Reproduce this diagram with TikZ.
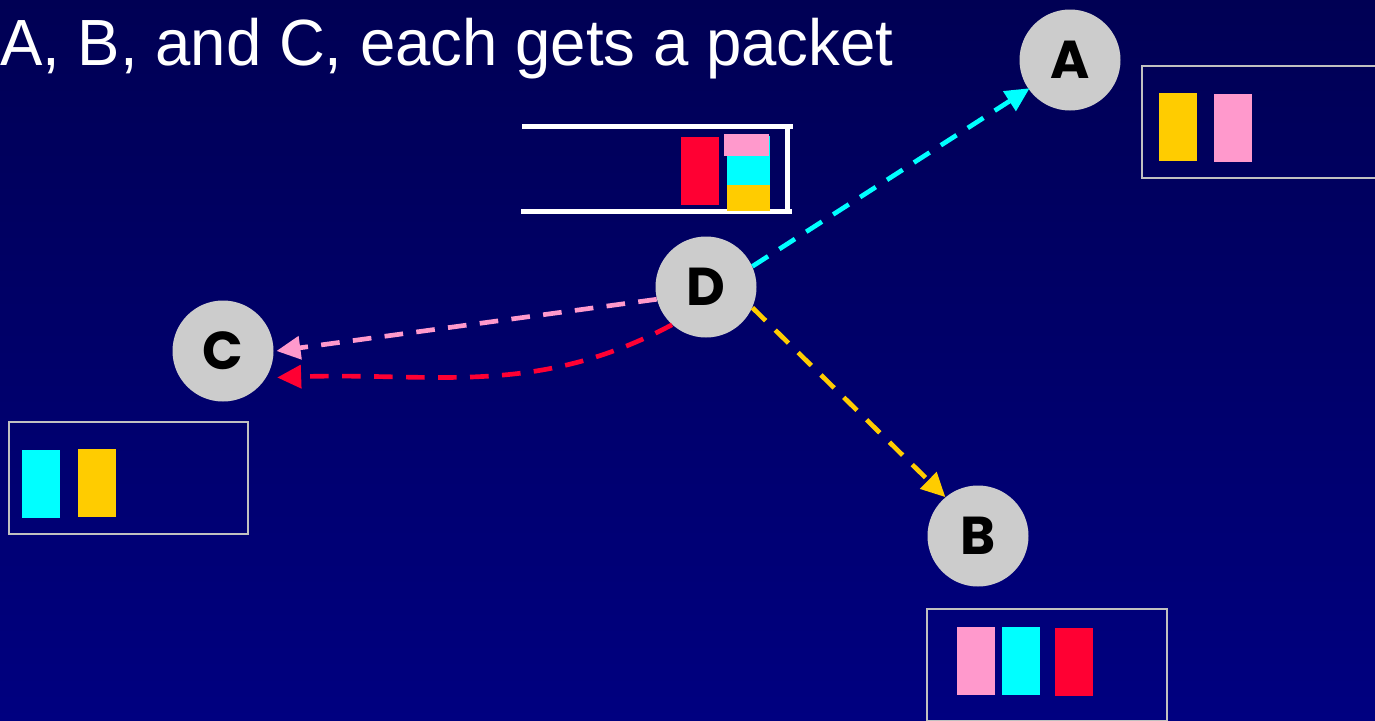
\documentclass[tikz,border=0pt]{standalone}
\usepackage{fontspec}
\setmainfont{Liberation Sans}
\newfontfamily\letterfont{Poppins}
\usetikzlibrary{arrows.meta}
\definecolor{bgtop}{RGB}{0,0,84}
\definecolor{bgbot}{RGB}{0,0,128}
\definecolor{pcyan}{RGB}{0,255,255}
\definecolor{pyellow}{RGB}{255,204,0}
\definecolor{ppink}{RGB}{255,153,204}
\definecolor{pred}{RGB}{255,0,51}
\definecolor{nodegray}{RGB}{204,204,204}
\definecolor{boxgray}{RGB}{192,192,192}
\tikzset{
  station/.style={circle, fill=nodegray, inner sep=0pt, minimum size=75.75pt,
    font=\letterfont\bfseries\fontsize{40}{40}\selectfont, text=black},
  pkt/.style={inner sep=0pt, minimum width=28.5pt, minimum height=51pt, draw=none},
  holder/.style={draw=boxgray, line width=1.6pt, fill=none},
  bufline/.style={draw=white, line width=3.75pt},
  flow/.style={line width=3.5pt, dash pattern=on 14pt off 10pt,
    -{Triangle[length=18pt,width=17pt]}},
}
\begin{document}
\begin{tikzpicture}[x=0.75pt,y=-0.75pt]
\useasboundingbox (0,0) rectangle (1375,721);
\shade[top color=bgtop, bottom color=bgbot] (0,0) rectangle (1375,721);

% title
\node[anchor=base west, inner sep=0pt, text=white, xscale=0.972, font=\fontsize{49}{49}\selectfont] (title) at (0,65) {A, B, and C, each gets a packet};

% stations
\node[station] (A) at (1070,60) {A};
\node[station] (D) at (706,287) {D};
\node[station] (C) at (223,351) {C};
\node[station] (B) at (978,536) {B};

% buffer at D
\draw[bufline] (522,126) -- (793,126);
\draw[bufline] (521,211) -- (792,211);
\draw[bufline] (787,126) -- (787,210);
\node[pkt, fill=pred, minimum width=28.5pt, minimum height=51pt] (dr) at (700,171) {};
\node[pkt, fill=pcyan, minimum width=32.25pt, minimum height=56.25pt] (dc) at (748.5,173.5) {};
\node[pkt, fill=pyellow, minimum width=32.25pt, minimum height=19.5pt] (dy) at (748.5,198) {};
\node[pkt, fill=ppink, minimum width=33.75pt, minimum height=16.5pt] (dp) at (746.5,145) {};

% holder boxes
\node[holder, minimum width=180pt, minimum height=84pt, inner sep=0pt] (boxA) at (1262,122) {};
\node[pkt, fill=pyellow] (a1) at (1178,127) {};
\node[pkt, fill=ppink] (a2) at (1233,128) {};

\node[holder, minimum width=179.25pt, minimum height=84pt, inner sep=0pt] (boxC) at (128.5,478) {};
\node[pkt, fill=pcyan] (c1) at (41,483.5) {};
\node[pkt, fill=pyellow] (c2) at (97,482.5) {};

\node[holder, minimum width=180pt, minimum height=84pt, inner sep=0pt] (boxB) at (1047,665) {};
\node[pkt, fill=ppink] (b1) at (976,661) {};
\node[pkt, fill=pcyan] (b2) at (1021,661) {};
\node[pkt, fill=pred] (b3) at (1074,662) {};

% flows
\draw[flow, draw=pcyan] (D.24) -- ([xshift=2pt,yshift=-1pt]A.212);
\draw[flow, draw=pyellow] (D.-24) -- (B.130);
\draw[flow, draw=ppink] (D.194) -- ([xshift=2pt]C.0);
\draw[flow, draw=pred] (D.-132) to[out=-152, in=2] ([xshift=7pt,yshift=-2pt]C.-28);
\end{tikzpicture}
\end{document}
